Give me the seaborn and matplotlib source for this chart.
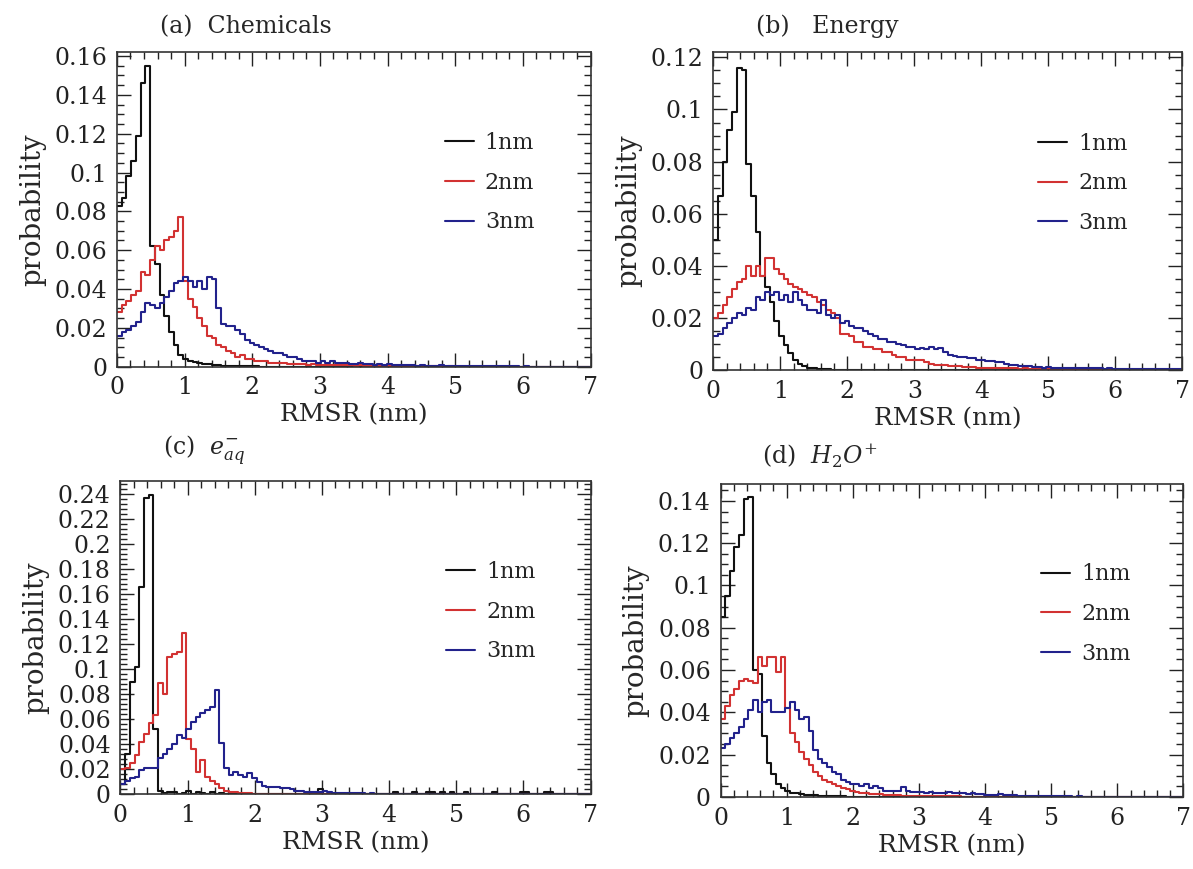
"""
RMSR distributions for 1, 2 and 3 nm cells
four panels of step histograms
"""

import numpy as np
import pandas as pd
import matplotlib
matplotlib.use("Agg")
import matplotlib.pyplot as plt
from matplotlib.ticker import MultipleLocator, FuncFormatter
import seaborn as sns

# ----------------------------------------
# Data: probability per 0.07 nm bin, 0 - 7 nm (100 bins)
# ----------------------------------------

labels = ["1nm", "2nm", "3nm"]
colors = ["#111111", "#d23232", "#22228c"]

# (a) Chemicals
black_a = [0.083, 0.087, 0.098, 0.106, 0.119, 0.146, 0.155, 0.062, 0.053, 0.037,
           0.026, 0.018, 0.011, 0.006, 0.004, 0.003, 0.0025, 0.002, 0.0015, 0.0012,
           0.001, 0.0008, 0.0006, 0.0005, 0.0004, 0.0003, 0.0003, 0.0002, 0.0002, 0.0002,
           0.0001, 0.0001, 0.0001, 0.0001, 0.0001, 0, 0, 0, 0, 0,
           0, 0, 0, 0, 0, 0, 0, 0, 0, 0,
           0, 0, 0, 0, 0, 0, 0, 0, 0, 0,
           0, 0, 0, 0, 0, 0, 0, 0, 0, 0,
           0, 0, 0, 0, 0, 0, 0, 0, 0, 0,
           0, 0, 0, 0, 0, 0, 0, 0, 0, 0,
           0, 0, 0, 0, 0, 0, 0, 0, 0, 0]
red_a = [0.028, 0.032, 0.034, 0.037, 0.039, 0.049, 0.047, 0.055, 0.062, 0.060,
         0.065, 0.067, 0.070, 0.077, 0.044, 0.035, 0.031, 0.025, 0.021, 0.016,
         0.015, 0.011, 0.010, 0.008, 0.007, 0.005, 0.006, 0.004, 0.004, 0.003,
         0.003, 0.003, 0.002, 0.002, 0.002, 0.002, 0.0015, 0.0015, 0.0012, 0.0012,
         0.001, 0.0012, 0.001, 0.001, 0.0009, 0.001, 0.0008, 0.0008, 0.0007, 0.0008,
         0.0006, 0.0007, 0.0006, 0.0005, 0.0006, 0.0005, 0.0004, 0.0005, 0.0004, 0.0004,
         0.0003, 0.0004, 0.0003, 0.0003, 0.0002, 0.0003, 0.0002, 0.0002, 0.0002, 0.0001,
         0.0002, 0.0001, 0.0001, 0.0001, 0.0001, 0.0001, 0.0001, 0, 0.0001, 0,
         0, 0, 0, 0, 0, 0, 0, 0, 0, 0,
         0, 0, 0, 0, 0, 0, 0, 0, 0, 0]
blue_a = [0.016, 0.018, 0.019, 0.021, 0.023, 0.028, 0.033, 0.032, 0.030, 0.033,
          0.036, 0.039, 0.043, 0.044, 0.046, 0.044, 0.041, 0.044, 0.040, 0.046,
          0.045, 0.030, 0.022, 0.021, 0.021, 0.019, 0.017, 0.014, 0.012, 0.011,
          0.010, 0.009, 0.008, 0.007, 0.007, 0.006, 0.005, 0.005, 0.004, 0.003,
          0.003, 0.003, 0.002, 0.003, 0.002, 0.003, 0.002, 0.002, 0.002, 0.0015,
          0.0015, 0.002, 0.0012, 0.0015, 0.001, 0.0012, 0.001, 0.0015, 0.001, 0.001,
          0.0008, 0.001, 0.0008, 0.0006, 0.001, 0.0006, 0.0005, 0.0005, 0.0008, 0.0005,
          0.0005, 0.0004, 0.0006, 0.0004, 0.0003, 0.0004, 0.0003, 0.0003, 0.0002, 0.0003,
          0.0002, 0.0002, 0.0003, 0.0002, 0.0002, 0.0001, 0.0002, 0.0001, 0.0001, 0.0001,
          0.0001, 0.0001, 0, 0.0001, 0, 0, 0.0001, 0, 0, 0]

# (b) Energy
black_b = [0.050, 0.067, 0.080, 0.092, 0.099, 0.116, 0.115, 0.079, 0.067, 0.053,
           0.036, 0.032, 0.026, 0.019, 0.013, 0.0095, 0.0065, 0.004, 0.0025, 0.0015,
           0.001, 0.0008, 0.0005, 0.0004, 0.0003, 0.0002, 0.0002, 0.0001, 0.0001, 0,
           0, 0, 0, 0, 0, 0, 0, 0, 0, 0,
           0, 0, 0, 0, 0, 0, 0, 0, 0, 0,
           0, 0, 0, 0, 0, 0, 0, 0, 0, 0,
           0, 0, 0, 0, 0, 0, 0, 0, 0, 0,
           0, 0, 0, 0, 0, 0, 0, 0, 0, 0,
           0, 0, 0, 0, 0, 0, 0, 0, 0, 0,
           0, 0, 0, 0, 0, 0, 0, 0, 0, 0]
red_b = [0.020, 0.022, 0.025, 0.028, 0.031, 0.034, 0.035, 0.040, 0.036, 0.040,
         0.036, 0.043, 0.043, 0.039, 0.037, 0.035, 0.033, 0.032, 0.031, 0.030,
         0.029, 0.028, 0.026, 0.025, 0.023, 0.022, 0.020, 0.014, 0.014, 0.013,
         0.011, 0.011, 0.009, 0.009, 0.008, 0.008, 0.007, 0.007, 0.006, 0.005,
         0.005, 0.004, 0.004, 0.004, 0.004, 0.003, 0.0025, 0.002, 0.002, 0.002,
         0.0016, 0.0016, 0.0015, 0.0014, 0.0012, 0.0012, 0.001, 0.001, 0.001, 0.0009,
         0.0008, 0.0009, 0.0008, 0.0007, 0.0008, 0.0006, 0.0007, 0.0006, 0.0005, 0.0006,
         0.0005, 0.0005, 0.0004, 0.0005, 0.0004, 0.0004, 0.0003, 0.0004, 0.0003, 0.0003,
         0.0003, 0.0002, 0.0003, 0.0002, 0.0002, 0.0002, 0.0001, 0.0002, 0.0001, 0.0001,
         0.0001, 0.0001, 0.0001, 0, 0.0001, 0, 0, 0, 0, 0]
blue_b = [0.013, 0.014, 0.016, 0.018, 0.020, 0.022, 0.021, 0.024, 0.023, 0.028,
          0.027, 0.030, 0.029, 0.030, 0.027, 0.029, 0.026, 0.030, 0.027, 0.025,
          0.023, 0.023, 0.022, 0.027, 0.021, 0.020, 0.021, 0.018, 0.019, 0.017,
          0.016, 0.016, 0.015, 0.014, 0.013, 0.012, 0.012, 0.011, 0.011, 0.010,
          0.0095, 0.009, 0.009, 0.008, 0.0085, 0.008, 0.009, 0.008, 0.0085, 0.007,
          0.006, 0.0055, 0.005, 0.005, 0.0048, 0.0045, 0.004, 0.004, 0.0035, 0.0035,
          0.003, 0.003, 0.0025, 0.002, 0.002, 0.0018, 0.0016, 0.0015, 0.0012, 0.0012,
          0.001, 0.0011, 0.001, 0.0009, 0.001, 0.0009, 0.0008, 0.001, 0.0008, 0.0008,
          0.0007, 0.0008, 0.0007, 0.0006, 0.0007, 0.0006, 0.0006, 0.0005, 0.0006, 0.0005,
          0.0005, 0.0005, 0.0004, 0.0005, 0.0004, 0.0004, 0.0004, 0.0003, 0.0004, 0.0003]

# (c) e_aq
black_c = [0.008, 0.032, 0.090, 0.102, 0.166, 0.237, 0.239, 0.052, 0.003, 0.001,
           0.002, 0.002, 0.0005, 0.001, 0.003, 0.0005, 0.002, 0.001, 0.0005, 0.002,
           0.0005, 0.001, 0, 0.0005, 0.001, 0, 0.0005, 0, 0, 0.0005,
           0, 0, 0, 0, 0, 0, 0, 0, 0, 0,
           0, 0, 0.004, 0, 0, 0, 0, 0, 0, 0,
           0, 0, 0, 0, 0, 0, 0, 0, 0.002, 0,
           0, 0, 0.002, 0, 0, 0.002, 0.002, 0, 0.002, 0,
           0.002, 0, 0, 0.002, 0, 0, 0, 0, 0, 0.002,
           0, 0, 0, 0, 0, 0.002, 0.002, 0, 0, 0,
           0.002, 0.002, 0, 0, 0, 0, 0, 0, 0, 0]
red_c = [0.020, 0.021, 0.025, 0.031, 0.042, 0.048, 0.057, 0.063, 0.089, 0.080,
         0.110, 0.112, 0.114, 0.129, 0.044, 0.036, 0.018, 0.027, 0.014, 0.011,
         0.008, 0.005, 0.003, 0.002, 0.0015, 0.001, 0.001, 0.0008, 0.0005, 0.0005,
         0.0004, 0.0004, 0.0003, 0.0003, 0.0002, 0.0002, 0.0002, 0.0001, 0.0001, 0.0001,
         0, 0, 0, 0, 0, 0, 0, 0, 0, 0,
         0, 0, 0, 0, 0, 0, 0, 0, 0, 0,
         0, 0, 0, 0, 0, 0, 0, 0, 0, 0,
         0, 0, 0, 0, 0, 0, 0, 0, 0, 0,
         0, 0, 0, 0, 0, 0, 0, 0, 0, 0,
         0, 0, 0, 0, 0, 0, 0, 0, 0, 0]
blue_c = [0.008, 0.011, 0.013, 0.014, 0.019, 0.021, 0.021, 0.021, 0.029, 0.032,
          0.036, 0.040, 0.047, 0.045, 0.052, 0.058, 0.062, 0.065, 0.067, 0.070,
          0.083, 0.041, 0.021, 0.015, 0.018, 0.015, 0.014, 0.017, 0.013, 0.010,
          0.007, 0.006, 0.006, 0.006, 0.005, 0.005, 0.004, 0.003, 0.003, 0.002,
          0.002, 0.0015, 0.002, 0.003, 0.0015, 0.001, 0.001, 0.0012, 0.001, 0.0008,
          0.0008, 0.001, 0.0006, 0.0008, 0.0005, 0.0006, 0.0005, 0.0005, 0.0004, 0.0004,
          0.0004, 0.0003, 0.0003, 0.0003, 0.0002, 0.0003, 0.0002, 0.0002, 0.0002, 0.0001,
          0.0001, 0.0002, 0.0001, 0.0001, 0, 0.0001, 0, 0.0001, 0, 0,
          0, 0, 0, 0, 0, 0, 0, 0, 0, 0,
          0, 0, 0, 0, 0, 0, 0, 0, 0, 0]

# (d) H2O+
black_d = [0.085, 0.095, 0.107, 0.118, 0.124, 0.141, 0.142, 0.060, 0.058, 0.029,
           0.016, 0.011, 0.006, 0.004, 0.003, 0.002, 0.002, 0.0015, 0.001, 0.001,
           0.0008, 0.0006, 0.0005, 0.0004, 0.0003, 0.0002, 0.0002, 0.0001, 0.0001, 0,
           0, 0, 0, 0, 0, 0, 0, 0, 0, 0,
           0, 0, 0, 0, 0, 0, 0, 0, 0, 0,
           0, 0, 0, 0, 0, 0, 0, 0, 0, 0,
           0, 0, 0, 0, 0, 0, 0, 0, 0, 0,
           0, 0, 0, 0, 0, 0, 0, 0, 0, 0,
           0, 0, 0, 0, 0, 0, 0, 0, 0, 0,
           0, 0, 0, 0, 0, 0, 0, 0, 0, 0]
red_d = [0.037, 0.043, 0.048, 0.051, 0.055, 0.056, 0.055, 0.054, 0.066, 0.062,
         0.066, 0.066, 0.059, 0.066, 0.042, 0.030, 0.026, 0.021, 0.018, 0.015,
         0.012, 0.010, 0.008, 0.007, 0.006, 0.005, 0.004, 0.0035, 0.003, 0.0025,
         0.002, 0.002, 0.0015, 0.0015, 0.0012, 0.001, 0.001, 0.0008, 0.0008, 0.0006,
         0.0006, 0.0005, 0.0005, 0.0004, 0.0004, 0.0003, 0.0003, 0.0003, 0.0002, 0.0002,
         0.0002, 0.0002, 0.0001, 0.0001, 0.0001, 0.0001, 0, 0.0001, 0, 0,
         0, 0, 0, 0, 0, 0, 0, 0, 0, 0,
         0, 0, 0, 0, 0, 0, 0, 0, 0, 0,
         0, 0, 0, 0, 0, 0, 0, 0, 0, 0,
         0, 0, 0, 0, 0, 0, 0, 0, 0, 0]
blue_d = [0.023, 0.025, 0.028, 0.030, 0.033, 0.037, 0.041, 0.046, 0.040, 0.045,
          0.046, 0.040, 0.040, 0.040, 0.042, 0.045, 0.041, 0.037, 0.038, 0.031,
          0.022, 0.018, 0.016, 0.014, 0.012, 0.011, 0.008, 0.007, 0.006, 0.006,
          0.005, 0.006, 0.004, 0.005, 0.004, 0.003, 0.003, 0.003, 0.003, 0.0045,
          0.003, 0.0025, 0.0025, 0.0025, 0.002, 0.0025, 0.002, 0.002, 0.002, 0.0025,
          0.002, 0.002, 0.0018, 0.0015, 0.002, 0.0015, 0.0012, 0.001, 0.001, 0.001,
          0.0012, 0.001, 0.0008, 0.0008, 0.0006, 0.0006, 0.0005, 0.0005, 0.0004, 0.0004,
          0.0004, 0.0003, 0.0003, 0.0002, 0.0002, 0.0002, 0.0001, 0.0002, 0.0001, 0.0001,
          0, 0, 0, 0, 0, 0, 0, 0, 0, 0,
          0, 0, 0, 0, 0, 0, 0, 0, 0, 0]

titles = ["(a)  Chemicals", "(b)   Energy", r"(c)  $e^{-}_{aq}$", r"(d)  $H_2O^{+}$"]

# bin layout
edges = np.linspace(0, 7, 101)
centers = (edges[:-1] + edges[1:]) / 2

# ----------------------------------------
# Style
# ----------------------------------------

sns.set_style("ticks")
plt.rcParams["font.family"] = ["DejaVu Serif"]
plt.rcParams["mathtext.fontset"] = "dejavuserif"

fig = plt.figure(figsize=(11.93, 8.69), dpi=100)

panels = [
    # rect, series, ymax, y minor step
    ([0.098, 0.578, 0.397, 0.362], [black_a, red_a, blue_a], 0.162, 0.005),
    ([0.598, 0.574, 0.393, 0.366], [black_b, red_b, blue_b], 0.122, 0.005),
    ([0.101, 0.086, 0.394, 0.360], [black_c, red_c, blue_c], 0.250, 0.004),
    ([0.604, 0.083, 0.388, 0.360], [black_d, red_d, blue_d], 0.148, 0.005),
]

for (rect, series, ymax, yminor), title in zip(panels, titles):
    ax = fig.add_axes(rect)
    for vals, lab, col in zip(series, labels, colors):
        df = pd.DataFrame({"rmsr": centers, "prob": vals})
        sns.histplot(data=df, x="rmsr", weights="prob", bins=list(edges),
                     element="step", fill=False, color=col, linewidth=1.5,
                     label=lab, ax=ax)

    ax.set_xlim(0, 7)
    ax.set_ylim(0, ymax)
    ax.xaxis.set_major_locator(MultipleLocator(1))
    ax.xaxis.set_minor_locator(MultipleLocator(0.2))
    ax.yaxis.set_major_locator(MultipleLocator(0.02))
    ax.yaxis.set_minor_locator(MultipleLocator(yminor))
    ax.yaxis.set_major_formatter(FuncFormatter(lambda v, p: "%g" % round(v, 4)))
    ax.tick_params(which="both", direction="in", top=True, right=True,
                   labelsize=17, colors="#222222")
    ax.tick_params(which="major", length=10, width=1, pad=7)
    ax.tick_params(which="minor", length=5, width=1)
    for s in ax.spines.values():
        s.set_linewidth(1.2)
        s.set_color("#333333")

    ax.set_xlabel("RMSR (nm)", fontsize=18, labelpad=3)
    ax.set_ylabel("probability", fontsize=20, labelpad=6)
    ax.text(0.09, 1.045, title, transform=ax.transAxes, fontsize=17,
            ha="left", va="bottom")
    ax.legend(loc="upper left", bbox_to_anchor=(0.65, 0.81), frameon=False,
              fontsize=16, handlelength=1.3, handletextpad=0.5,
              labelspacing=0.8)

fig.savefig("out.png", dpi=100)
